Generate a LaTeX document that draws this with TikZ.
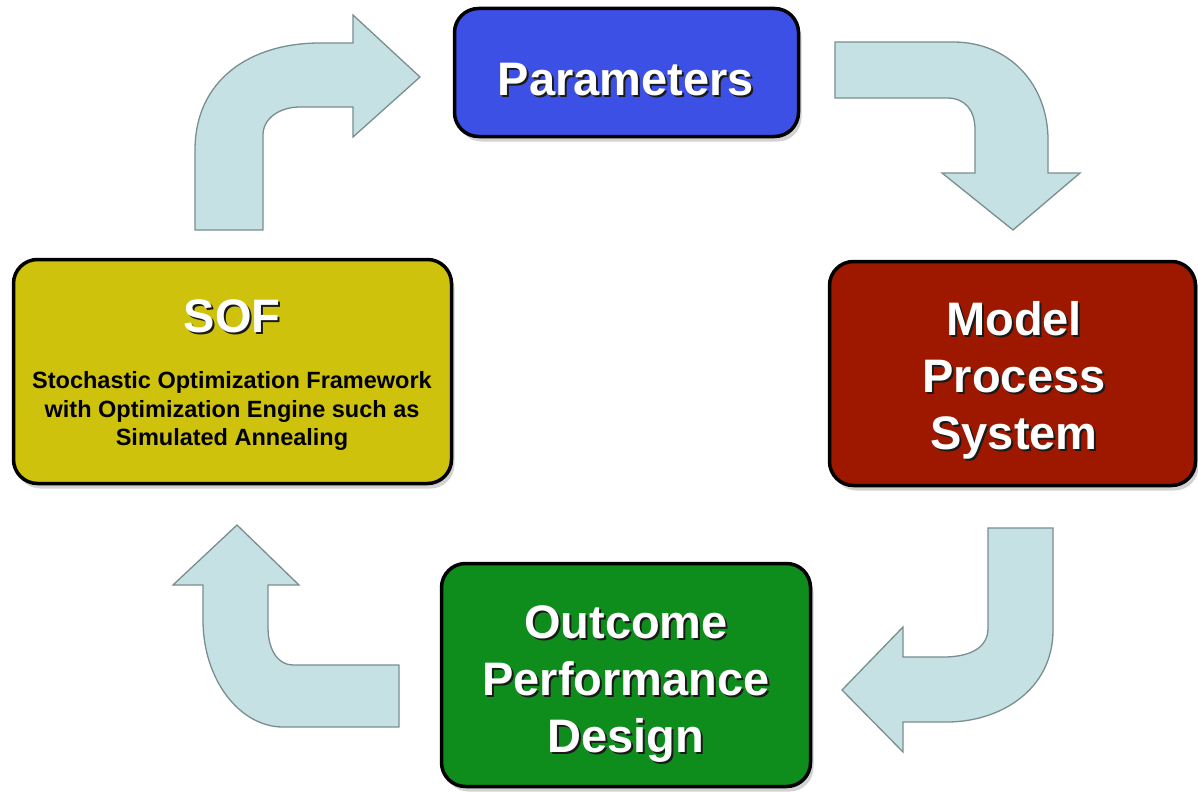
\documentclass[tikz,border=0pt]{standalone}
\usepackage{fontspec}
\setmainfont{Liberation Sans}
\usetikzlibrary{shadows}
\definecolor{arrowfill}{HTML}{C5E1E3}
\definecolor{arrowdraw}{HTML}{7A8E90}
\definecolor{pblue}{HTML}{3D50E6}
\definecolor{syellow}{HTML}{CEC20C}
\definecolor{mred}{HTML}{9E1800}
\definecolor{ogreen}{HTML}{0E8C1C}
\definecolor{txtshadow}{HTML}{1A1A1A}
\tikzset{
  box/.style={draw=black, line width=3.5pt, rounded corners=24pt, inner sep=0pt,
    drop shadow={shadow xshift=3pt, shadow yshift=-5pt, opacity=0.35}},
  bentarrow/.style={fill=arrowfill, draw=arrowdraw, line width=1.3pt, line join=miter},
  bigtxt/.style={font=\fontsize{47}{57}\selectfont\bfseries, text=white, anchor=base, inner sep=0pt},
  smalltxt/.style={font=\fontsize{23.5}{28.5}\selectfont\bfseries, text=black, anchor=base, inner sep=0pt}
}
\newcommand\shtxt[1]{\rlap{\kern2pt\raisebox{-2.5pt}{\textcolor{txtshadow}{#1}}}#1}
\begin{document}
\begin{tikzpicture}[x=1pt, y=-1pt]
\fill[white] (0,0) rectangle (1198,792);
\useasboundingbox (0,0) rectangle (1198,792);

% bent arrows
\draw[bentarrow] (195,230) -- (195,150) .. controls (195,80) and (250,43) .. (320,43)
  -- (353,43) -- (353,15) -- (420,77) -- (353,137) -- (353,107) -- (300,107)
  .. controls (280,107) and (263,118) .. (263,135) -- (263,230) -- cycle;
\draw[bentarrow] (835,42) -- (953,42) .. controls (1010,42) and (1048,85) .. (1048,140)
  -- (1048,173) -- (1080,173) -- (1013,230) -- (942,173) -- (975,173) -- (975,130)
  .. controls (975,110) and (965,98) .. (947,98) -- (835,98) -- cycle;
\draw[bentarrow] (988,528) -- (1053,528) -- (1053,630) .. controls (1053,690) and (1000,722) .. (947,722)
  -- (903,722) -- (903,752) -- (842,690) -- (903,627) -- (903,657) -- (943,657)
  .. controls (970,657) and (988,648) .. (988,628) -- cycle;
\draw[bentarrow] (399,665) -- (399,727) -- (283,727) .. controls (240,727) and (203,680) .. (203,620)
  -- (203,585) -- (173,585) -- (237,525) -- (299,585) -- (268,585) -- (268,627)
  .. controls (268,650) and (278,665) .. (293,665) -- cycle;

% boxes
\node[box, fill=pblue, minimum width=344pt, minimum height=128pt] (param) at (626.5,72.5) {};
\node[box, fill=syellow, minimum width=438pt, minimum height=224pt] (sof) at (232.5,371.5) {};
\node[box, fill=mred, minimum width=366pt, minimum height=224pt] (model) at (1012.5,373.5) {};
\node[box, fill=ogreen, minimum width=369pt, minimum height=223pt] (outcome) at (626,675) {};

% texts
\node[bigtxt] (tparam) at (626,95) {\shtxt{Parameters}};
\node[bigtxt] (tsof) at (232,332) {\shtxt{SOF}};
\node[smalltxt] (s1) at (232,388) {Stochastic Optimization Framework};
\node[smalltxt] (s2) at (232,417) {with Optimization Engine such as};
\node[smalltxt] (s3) at (232,445) {Simulated Annealing};
\node[bigtxt] (tm1) at (1014,335) {\shtxt{Model}};
\node[bigtxt] (tm2) at (1014,392) {\shtxt{Process}};
\node[bigtxt] (tm3) at (1014,449) {\shtxt{System}};
\node[bigtxt] (to1) at (626,638) {\shtxt{Outcome}};
\node[bigtxt] (to2) at (626,695) {\shtxt{Performance}};
\node[bigtxt] (to3) at (626,752) {\shtxt{Design}};
\end{tikzpicture}
\end{document}
